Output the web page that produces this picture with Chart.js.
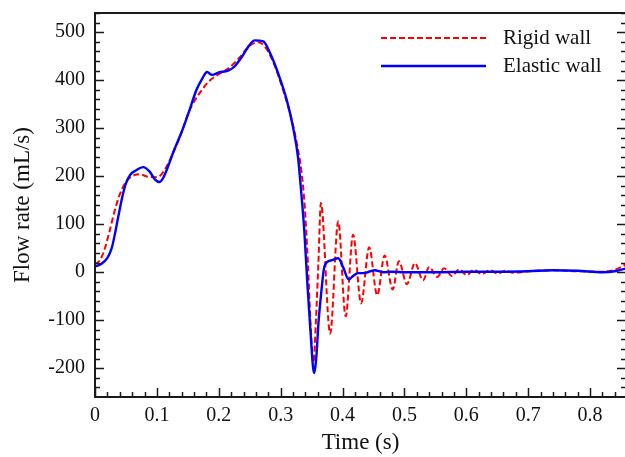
<!DOCTYPE html>
<html>
<head>
<meta charset="utf-8">
<script src="https://cdn.jsdelivr.net/npm/chart.js@4/dist/chart.umd.min.js"></script>
<style>
    html, body { margin: 0; padding: 0; background: #fff; overflow: hidden; }
    #flowChart { display: block; }
</style>
</head>
<body>
<canvas id="flowChart" width="627" height="457"></canvas>
<script>
const seriesLabels = ['Rigid wall', 'Elastic wall'];

// rigid wall (dashed red)
const rigidT = [0, 0.008, 0.016, 0.024, 0.032, 0.04, 0.05, 0.06, 0.072, 0.085, 0.1, 0.11, 0.126, 0.14, 0.153, 0.17, 0.186, 0.202, 0.218, 0.234, 0.25, 0.264, 0.275, 0.288, 0.304, 0.318, 0.326, 0.334, 0.339, 0.344, 0.348, 0.353, 0.357, 0.361, 0.365, 0.380, 0.393, 0.405, 0.417, 0.430, 0.443, 0.456, 0.468, 0.481, 0.491, 0.504, 0.517, 0.530, 0.540, 0.553, 0.564, 0.577, 0.588, 0.601, 0.612, 0.625, 0.638, 0.651, 0.663, 0.676, 0.70, 0.74, 0.78, 0.82, 0.84, 0.858];
const rigidQ = [17, 25, 50, 88, 129, 162, 188, 200, 204, 199, 198, 208, 248, 292, 338, 375, 400, 414, 427, 448, 472, 479, 469, 438, 379, 317, 269, 206, 135, 20, -100, -188, -100, 20, 144, -128, 106, -92, 78, -65, 52, -48, 35, -36, 23, -25, 19, -17, 11, -10, 8, -8, 6, -6, 5, -4, 4, -3, 3, -1, 2, 4, 2, 1, 5, 16];

// elastic wall (solid blue)
const elasticT = [0, 0.01, 0.02, 0.027, 0.033, 0.039, 0.045, 0.05, 0.057, 0.066, 0.078, 0.088, 0.097, 0.104, 0.11, 0.118, 0.128, 0.14, 0.152, 0.164, 0.174, 0.181, 0.189, 0.2, 0.215, 0.225, 0.238, 0.25, 0.258, 0.272, 0.283, 0.296, 0.31, 0.32, 0.328, 0.333, 0.338, 0.343, 0.348, 0.354, 0.358, 0.361, 0.366, 0.37, 0.375, 0.383, 0.393, 0.401, 0.41, 0.417, 0.425, 0.435, 0.445, 0.452, 0.465, 0.48, 0.5, 0.55, 0.6, 0.65, 0.7, 0.74, 0.78, 0.82, 0.84, 0.858];
const elasticQ = [12, 17, 30, 50, 85, 125, 162, 185, 203, 212, 219, 210, 193, 188, 196, 220, 255, 292, 335, 380, 405, 417, 411, 416, 420, 428, 450, 474, 483, 481, 456, 414, 358, 302, 240, 170, 90, -20, -120, -210, -170, -107, -37, 8, 21, 25, 29, 10, -15, -8, -2, -2, 2, 4, 0, 1, 0, 0, 1, 1, 2, 4, 3, 0, 2, 8];

const xTicks = [0, 0.1, 0.2, 0.3, 0.4, 0.5, 0.6, 0.7, 0.8];
const yTicks = [-200, -100, 0, 100, 200, 300, 400, 500];

const serif = '"Liberation Serif", "DejaVu Serif", serif';
const red = 'rgb(255, 0, 0)';
const blue = 'rgb(0, 0, 255)';

const toPoints = (ts, qs) => ts.map((t, i) => ({ x: t, y: qs[i] }));

// frame, inward ticks and legend, drawn like the original plot
const framePlugin = {
    id: 'frame',
    afterDraw(chart) {
        const { ctx, chartArea: a, scales: { x, y } } = chart;
        ctx.save();
        ctx.strokeStyle = '#1a1a1a';
        ctx.lineWidth = 1.5;
        // minor/major ticks
        for (let v = -260; v <= 540; v += 20) {
            const py = Math.round(y.getPixelForValue(v)) + 0.5;
            if (py < a.top || py > a.bottom) continue;
            const len = v % 100 === 0 ? 9 : 5;
            ctx.beginPath();
            ctx.moveTo(a.left, py); ctx.lineTo(a.left + len, py);
            ctx.moveTo(a.right, py); ctx.lineTo(a.right - len, py);
            ctx.stroke();
        }
        for (let i = 0; i <= 44; i++) {
            const v = i * 0.02;
            const px = Math.round(x.getPixelForValue(v)) + 0.5;
            if (px > a.right) break;
            const len = i % 5 === 0 ? 9 : 5;
            ctx.beginPath();
            ctx.moveTo(px, a.bottom); ctx.lineTo(px, a.bottom - len);
            ctx.stroke();
        }
        ctx.lineWidth = 2;
        ctx.strokeRect(a.left, a.top, a.right - a.left, a.bottom - a.top);

        // legend
        const items = [
            { label: seriesLabels[0], color: red, dash: [6, 3], width: 2 },
            { label: seriesLabels[1], color: blue, dash: [], width: 2.5 }
        ];
        items.forEach((it, i) => {
            const ly = 38 + i * 28;
            ctx.beginPath();
            ctx.setLineDash(it.dash);
            ctx.strokeStyle = it.color;
            ctx.lineWidth = it.width;
            ctx.moveTo(381, ly); ctx.lineTo(486, ly);
            ctx.stroke();
            ctx.setLineDash([]);
            ctx.fillStyle = '#111';
            ctx.font = '21px ' + serif;
            ctx.textBaseline = 'middle';
            ctx.fillText(it.label, 503, ly);
        });
        ctx.restore();
    }
};

new Chart(document.getElementById('flowChart').getContext('2d'), {
    type: 'line',
    data: {
        datasets: [
            {
                label: seriesLabels[1],
                data: toPoints(elasticT, elasticQ),
                borderColor: blue,
                borderWidth: 2.4,
                pointRadius: 0,
                cubicInterpolationMode: 'monotone',
                fill: false
            },
            {
                label: seriesLabels[0],
                data: toPoints(rigidT, rigidQ),
                borderColor: red,
                borderWidth: 2,
                borderDash: [6, 3],
                pointRadius: 0,
                cubicInterpolationMode: 'monotone',
                fill: false
            }
        ]
    },
    options: {
        responsive: false,
        animation: false,
        layout: { padding: { top: 13, right: 1, left: 0, bottom: 0 } },
        plugins: {
            legend: { display: false },
            tooltip: { enabled: false }
        },
        scales: {
            x: {
                type: 'linear',
                min: 0,
                max: 0.858,
                afterFit: (scale) => {
                    scale.height = 60;
                    scale.paddingLeft = 0;
                    scale.paddingRight = 0;
                },
                afterBuildTicks: (scale) => { scale.ticks = xTicks.map(v => ({ value: v })); },
                grid: { display: false, drawTicks: false },
                border: { display: false },
                ticks: {
                    padding: 7,
                    color: '#111',
                    font: { family: serif, size: 20 },
                    maxRotation: 0,
                    autoSkip: false,
                    callback: (v) => String(Math.round(v * 10) / 10)
                },
                title: {
                    display: true,
                    text: 'Time (s)',
                    color: '#111',
                    font: { family: serif, size: 23 },
                    padding: { top: 0, bottom: 0 }
                }
            },
            y: {
                min: -260,
                max: 540,
                afterFit: (scale) => {
                    scale.width = 95;
                    scale.paddingTop = 0;
                    scale.paddingBottom = 0;
                },
                afterBuildTicks: (scale) => { scale.ticks = yTicks.map(v => ({ value: v })); },
                grid: { display: false, drawTicks: false },
                border: { display: false },
                ticks: {
                    padding: 10,
                    color: '#111',
                    font: { family: serif, size: 20 }
                },
                title: {
                    display: true,
                    text: 'Flow rate (mL/s)',
                    color: '#111',
                    font: { family: serif, size: 23 },
                    padding: { top: 9, bottom: 0 }
                }
            }
        }
    },
    plugins: [framePlugin]
});
</script>
</body>
</html>
